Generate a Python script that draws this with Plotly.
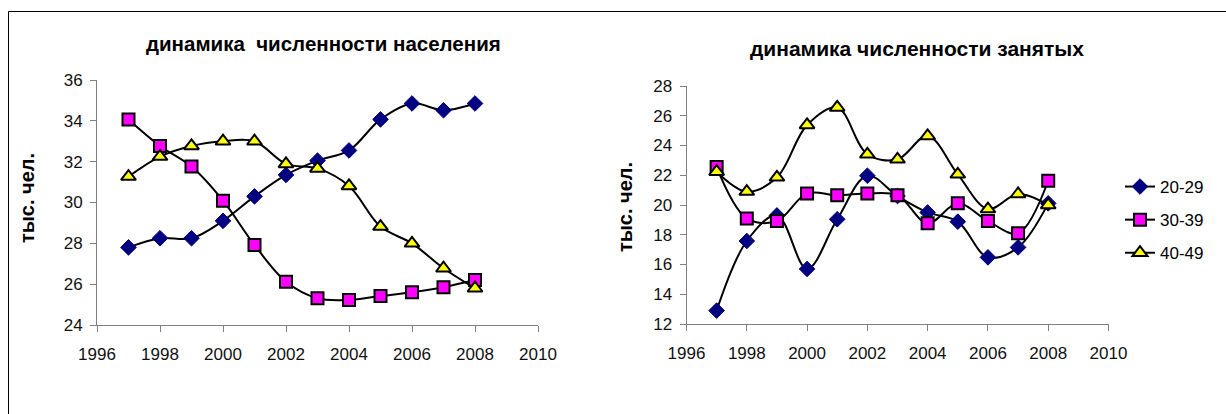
import plotly.graph_objects as go

years = [1997, 1998, 1999, 2000, 2001, 2002, 2003, 2004, 2005, 2006, 2007, 2008]
series_names = ["20-29", "30-39", "40-49"]

pop_20_29 = [27.8, 28.25, 28.25, 29.1, 30.3, 31.35, 32.05, 32.55, 34.07, 34.85, 34.52, 34.85]
pop_30_39 = [34.07, 32.77, 31.76, 30.09, 27.92, 26.12, 25.31, 25.23, 25.42, 25.6, 25.85, 26.2]
pop_40_49 = [31.27, 32.25, 32.77, 33.0, 33.0, 31.89, 31.67, 30.81, 28.82, 28.0, 26.78, 25.8]

emp_20_29 = [12.9, 17.58, 19.3, 15.7, 19.04, 21.97, 20.6, 19.5, 18.88, 16.48, 17.15, 20.11]
emp_30_39 = [22.55, 19.1, 18.92, 20.78, 20.65, 20.78, 20.65, 18.77, 20.11, 18.92, 18.1, 21.63]
emp_40_49 = [22.24, 20.9, 21.86, 25.38, 26.56, 23.41, 23.07, 24.64, 22.06, 19.73, 20.74, 20.0]

title_left = "динамика  численности населения"
title_right = "динамика численности занятых"
y_title = "тыс. чел."

W, H = 1226, 414
FONT = "Liberation Sans, Arial, sans-serif"

styles = [
    dict(symbol="diamond", color="#000080", line=dict(color="#000080", width=1), size=12),
    dict(symbol="square", color="#FF00FF", line=dict(color="black", width=2), size=12),
    dict(symbol="triangle-up", color="#FFFF00", line=dict(color="black", width=2), size=13),
]

fig = go.Figure()

for i, (name, ys) in enumerate(zip(series_names, [pop_20_29, pop_30_39, pop_40_49])):
    fig.add_trace(go.Scatter(
        x=years, y=ys, name=name, mode="lines+markers",
        line=dict(color="black", width=2, shape="spline", smoothing=1),
        marker=styles[i], xaxis="x", yaxis="y", showlegend=False,
    ))

for i, (name, ys) in enumerate(zip(series_names, [emp_20_29, emp_30_39, emp_40_49])):
    fig.add_trace(go.Scatter(
        x=years, y=ys, name=name, mode="lines+markers",
        line=dict(color="black", width=2, shape="spline", smoothing=1),
        marker=styles[i], xaxis="x2", yaxis="y2", showlegend=True,
        legendgroup=name,
    ))

def px(x):
    return x / W

def py(y):
    return 1 - y / H

axis_common = dict(
    showline=True, linecolor="#808080", linewidth=1,
    ticks="outside", ticklen=6, tickcolor="#808080",
    showgrid=False, zeroline=False, automargin=False,
    tickfont=dict(family=FONT, size=17, color="#111111"),
)

fig.update_layout(
    template="none",
    width=W, height=H,
    margin=dict(l=0, r=0, t=0, b=0, pad=0, autoexpand=False),
    paper_bgcolor="white", plot_bgcolor="white",
    xaxis=dict(domain=[px(97), px(538)], range=[1996, 2010], dtick=2, anchor="y",
               ticklabelstandoff=8, **axis_common),
    yaxis=dict(domain=[py(325), py(80)], range=[24, 36], dtick=2, anchor="x",
               ticklabelstandoff=4, **axis_common),
    xaxis2=dict(domain=[px(686.5), px(1108.5)], range=[1996, 2010], dtick=2, anchor="y2",
                ticklabelstandoff=8, **axis_common),
    yaxis2=dict(domain=[py(324), py(86)], range=[12, 28], dtick=2, anchor="x2",
                ticklabelstandoff=4, **axis_common),
    legend=dict(
        x=px(1120), y=py(169), xanchor="left", yanchor="top",
        font=dict(family=FONT, size=17, color="black"),
        traceorder="grouped", tracegroupgap=8,
        bgcolor="rgba(0,0,0,0)",
    ),
    showlegend=True,
)

fig.add_annotation(text="<b>" + title_left + "</b>", x=px(323), y=py(43), xref="paper", yref="paper",
                   xanchor="center", yanchor="middle",
                   showarrow=False, font=dict(family=FONT, size=20.5, color="black"))
fig.add_annotation(text="<b>" + title_right + "</b>", x=px(917), y=py(49), xref="paper", yref="paper",
                   xanchor="center", yanchor="middle",
                   showarrow=False, font=dict(family=FONT, size=21, color="black"))
fig.add_annotation(text="<b>" + y_title + "</b>", x=px(27), y=py(198), xref="paper", yref="paper",
                   xanchor="center", yanchor="middle",
                   showarrow=False, textangle=-90, font=dict(family=FONT, size=20, color="black"))
fig.add_annotation(text="<b>" + y_title + "</b>", x=px(625), y=py(207), xref="paper", yref="paper",
                   xanchor="center", yanchor="middle",
                   showarrow=False, textangle=-90, font=dict(family=FONT, size=20, color="black"))

fig.add_shape(type="rect", xref="paper", yref="paper",
              x0=px(8.5), x1=1.02, y0=-0.02, y1=py(11.5),
              line=dict(color="black", width=1), fillcolor="rgba(0,0,0,0)", layer="below")

fig.write_html("out.html", config={"displayModeBar": False},
               post_script="document.body.style.margin='0px';")
